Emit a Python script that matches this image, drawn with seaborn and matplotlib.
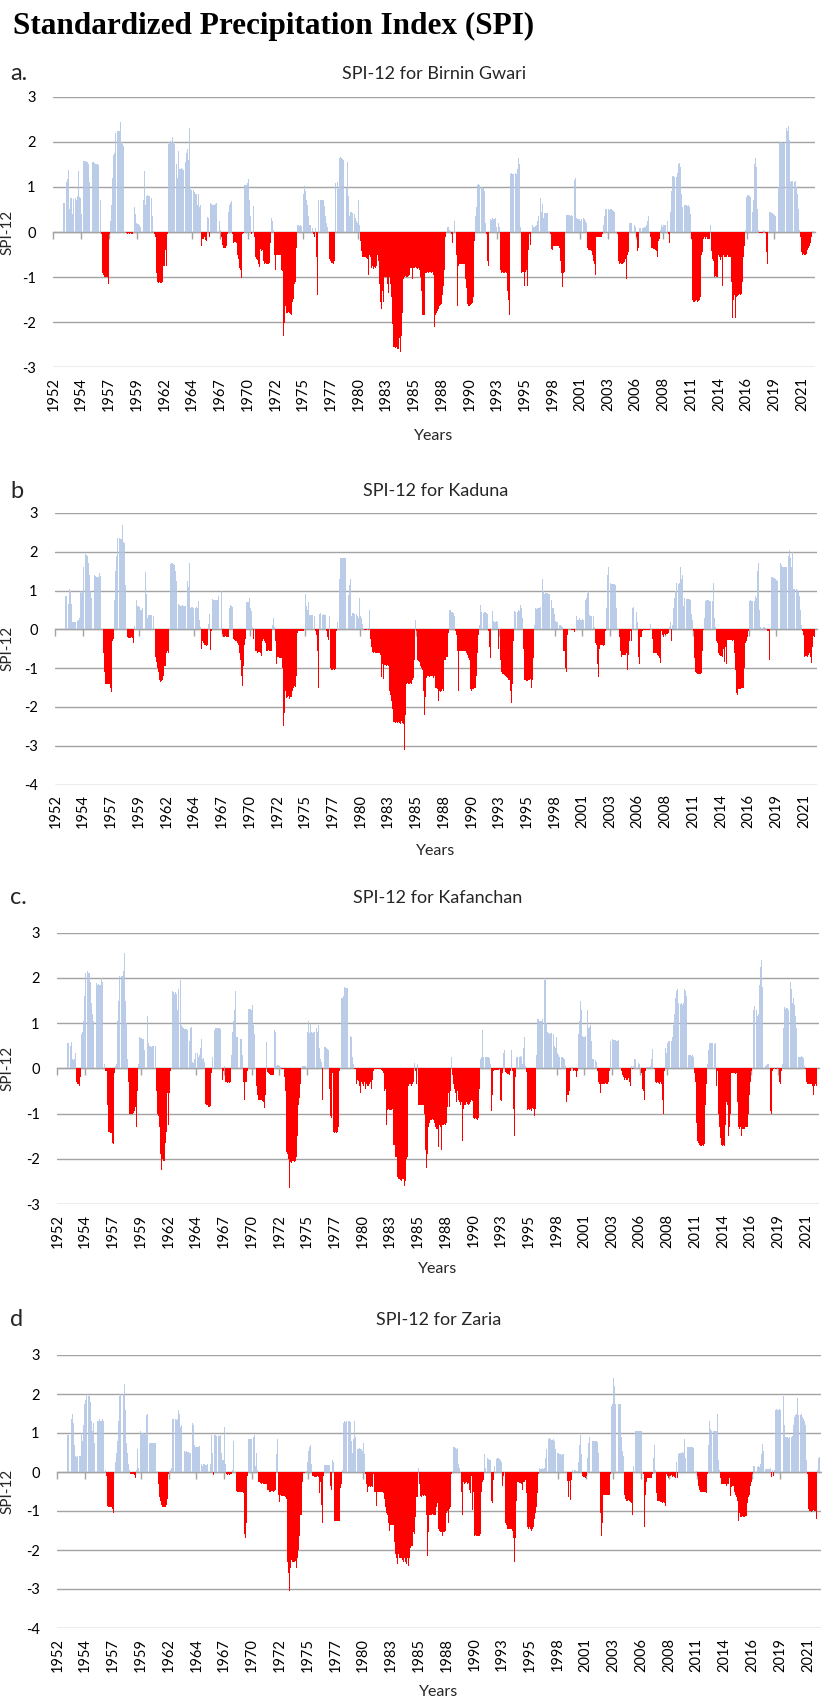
import numpy as np
import pandas as pd
import matplotlib
matplotlib.use("Agg")
import matplotlib.pyplot as plt
import seaborn as sns

nan = float("nan")

# ---------------- data (monthly SPI-12, Jan 1952 ... Dec 2022) ----------------
tick_labels = ["1952", "1954", "1957", "1959", "1962", "1964", "1967", "1970",
               "1972", "1975", "1977", "1980", "1983", "1985", "1988", "1990",
               "1993", "1995", "1998", "2001", "2003", "2006", "2008", "2011",
               "2014", "2016", "2019", "2021"]
label_every = 31  # categories (months) between labels

spi_birnin_gwari = [
    nan, nan, nan, nan, nan, nan, nan, nan, nan, nan, nan, 0.64,
    0.65, 0.66, 0.42, 1.1, 1.17, 1.37, 0.5, 0.75, 0.75, 0.4, 0.74, 0.75,
    0.75, 0.76, 0.72, 0.8, 1.35, 0.78, 0.75, 0.4, 1.62, 1.6, 1.58, 1.58,
    1.58, 1.56, 1.55, 1.5, 1.1, 1.05, 0.5, 1.0, 1.55, 1.56, 1.52, 1.5,
    1.5, 1.5, 1.48, 1.45, 0.72, 0.7, -0.05, -0.9, -0.95, -1.0, -1.0, -1.0,
    -1.0, -1.03, -1.15, -0.05, 0.25, 0.6, 1.2, 1.7, 1.75, 2.2, 2.25, 2.25,
    2.25, 2.25, 2.25, 2.45, 2.0, 1.95, 1.9, 0.72, 0.7, 0.05, -0.03, -0.05,
    -0.03, -0.04, -0.02, -0.05, -0.04, -0.28, 0.02, 0.55, 0.4, 0.2, 0.18, 0.17,
    0.15, 0.12, 0.08, 0.4, 0.25, 0.7, 1.35, 0.6, 0.8, 0.82, 0.8, 0.8,
    0.8, 0.78, 0.75, 0.35, 0.02, -0.05, -0.1, -0.9, -1.1, -1.12, -1.12, -1.1,
    -1.12, -1.12, -1.1, -0.75, -0.75, -0.4, -0.75, -0.9, -0.05, 1.95, 2.0, 2.02,
    2.0, 2.1, 2.0, 1.95, 1.9, 1.85, 1.5, 1.2, 1.8, 1.4, 1.4, 1.42,
    1.4, 1.38, 1.2, 1.0, 1.55, 1.75, 1.85, 1.6, 2.3, 0.95, 0.93, 0.9,
    0.9, 0.93, 0.88, 0.85, 0.85, 0.6, 0.85, 0.55, 0.6, -0.05, -0.3, -0.15,
    -0.15, -0.12, -0.18, -0.2, 0.33, 0.3, -0.1, -0.38, 0.65, 0.62, 0.6, 0.6,
    0.6, 0.62, 0.65, 0.6, 0.3, 0.7, 0.25, 0.05, -0.1, -0.28, -0.35, -0.35,
    -0.35, -0.3, -0.3, -0.05, 0.45, 0.6, 0.65, 0.68, -0.05, -0.25, -0.22, -0.22,
    -0.22, -0.25, -0.5, -0.6, -0.8, -0.85, -1.02, -0.05, -0.02, 1.0, 1.05, 1.05,
    1.05, 1.08, 1.17, 0.7, 0.35, -0.05, 0.25, 0.2, 0.58, -0.1, -0.55, -0.6,
    -0.62, -0.7, -0.78, -0.45, -0.38, -0.42, -0.4, -0.65, -0.7, -0.68, -0.7, -0.7,
    -0.7, -0.7, -0.68, -0.25, 0.32, 0.25, 0.05, -0.5, -0.85, -0.5, -0.5, -0.52,
    -0.52, -0.52, -0.52, -0.85, -0.87, -2.3, -2.02, -1.65, -1.55, -1.8, -1.8, -1.78,
    -1.8, -1.82, -1.85, -1.55, -1.48, -1.45, -1.15, -1.1, -0.35, 0.15, 0.15, 0.14,
    0.15, 0.14, 0.15, 0.7, 0.85, 1.02, 0.9, 0.72, 0.6, 0.35, 0.15, 0.15,
    0.15, 0.12, 0.08, -0.05, -0.1, 0.08, -0.55, -1.4, 0.7, 0.72, 0.73, 0.72,
    0.72, 0.72, 0.72, 0.58, 0.35, 0.2, 0.12, 0.75, 1.35, -0.6, -0.65, -0.68,
    -0.68, -0.7, -0.65, 1.08, 1.1, 1.25, 1.1, 0.95, 1.65, 1.67, 1.65, 1.62,
    1.6, 1.55, 0.85, 0.65, 0.98, 1.55, 0.8, 0.35, 0.45, 0.45, 0.42, 0.3,
    0.45, 0.4, 0.3, 0.25, 0.2, 0.72, 0.15, -0.2, -0.42, -0.45, -0.55, -0.55,
    -0.55, -0.55, -0.58, -0.6, -0.95, -0.5, -0.55, -0.7, -0.8, -0.75, -0.82, -0.78,
    -0.8, -0.75, -0.5, -0.65, -0.8, -1.15, -1.55, -1.7, -1.3, -1.55, -1.0, -1.0,
    -1.0, -1.0, -1.15, -1.35, -1.0, -1.15, -1.45, -2.05, -2.55, -2.55, -2.57, -2.55,
    -2.55, -2.6, -2.6, -2.35, -2.65, -2.3, -1.8, -1.05, -1.0, -1.0, -0.98, -1.0,
    -1.0, -0.98, -0.95, -0.8, -0.8, -1.05, 0.15, -0.8, -0.8, -0.78, -0.8, -0.82,
    -0.8, -0.85, -1.0, -1.05, -1.3, -1.85, -1.85, -1.85, -0.9, -0.9, -0.88, -0.9,
    -0.88, -0.9, -0.88, -0.9, -0.88, -0.95, -2.1, -1.85, -1.8, -1.75, -1.7, -1.7,
    -1.65, -1.62, -1.6, -1.4, -1.2, -0.85, -0.1, 0.55, 0.1, 0.12, 0.1, 0.05,
    0.03, -0.05, -0.25, 0.0, 0.25, 0.3, 0.32, -0.5, -1.65, -0.75, -0.72, -0.72,
    -0.72, -0.72, -0.7, -0.7, -0.72, -1.05, -1.25, -1.6, -1.65, -1.65, -1.62, -1.6,
    -1.6, -1.58, -1.45, -0.2, 0.35, 0.55, 1.05, 1.07, 1.05, 1.05, 1.0, 1.0,
    1.0, 0.98, 0.9, 0.2, -0.05, -0.65, -0.75, 0.72, 0.3, 0.28, 0.27, 0.3,
    0.28, 0.28, 0.3, 0.1, 0.5, 0.55, 0.2, 0.1, -0.85, -0.9, -0.88, -0.9,
    -0.9, -0.88, -0.9, -0.9, -1.3, -1.5, -1.85, 1.28, 1.3, 1.28, 1.28, 1.3,
    1.3, 1.3, 1.28, 1.4, 1.65, 1.5, 0.1, -0.9, -0.88, -0.85, -0.88, -1.2,
    -0.88, -0.85, -1.2, -0.4, -0.05, -0.28, -0.1, 0.05, 0.15, 0.12, 0.1, 0.13,
    0.15, 0.25, 0.35, 0.4, 0.55, 0.75, 0.45, 0.62, 0.3, 0.42, 0.42, 0.42,
    0.42, 0.42, 0.45, 0.02, -0.05, -0.38, -0.4, -0.3, -0.32, -0.3, -0.32, -0.28,
    -0.3, -0.32, -0.35, -0.65, -0.9, -1.22, -0.9, -0.88, 0.4, 0.4, 0.38, 0.38,
    0.38, 0.38, 0.35, 0.37, 0.35, 0.15, 1.05, 1.15, 1.2, 0.3, 0.28, 0.28,
    0.28, 0.25, 0.28, 0.3, 0.72, 0.3, 0.28, 0.25, 0.2, -0.35, -0.4, -0.4,
    -0.4, -0.38, -0.42, -0.5, -0.65, -0.72, -0.95, -0.12, -0.12, -0.1, -0.12, -0.1,
    -0.1, -0.12, -0.05, 0.15, 0.35, 0.5, 0.52, 1.1, 0.5, 0.5, 0.48, 0.5,
    0.5, 0.48, 0.47, 0.45, 0.4, 0.2, 0.18, -0.05, -0.65, -0.7, -0.68, -0.7,
    -0.7, -0.68, -0.66, -0.65, -0.6, -1.05, -0.5, -0.45, 0.2, 0.2, 0.2, 0.18,
    0.18, 0.17, 0.15, 0.1, -0.1, -0.42, -0.35, 0.08, 0.08, 0.08, 0.07, 0.08,
    0.08, 0.1, 0.12, 0.15, 0.25, 0.35, 0.4, 0.42, -0.1, -0.35, -0.35, -0.38,
    -0.38, -0.4, -0.42, -0.55, 0.05, -0.2, -0.15, 0.05, 0.15, 0.12, 0.15, 0.15,
    0.15, 0.15, 0.12, 0.25, -0.05, -0.25, 0.45, 0.9, 1.25, 1.25, 1.23, 1.25,
    1.25, 1.22, 1.3, 1.5, 1.52, 1.45, 0.85, 0.55, 0.6, 0.6, 0.6, 0.6,
    0.6, 0.58, 0.6, 0.55, 0.4, -0.15, -0.85, -1.5, -1.55, -1.55, -1.52, -1.5,
    -1.55, -1.52, -1.5, -1.45, -1.2, -0.5, -0.45, -0.15, -0.12, -0.15, -0.12, -0.15,
    -0.15, -0.12, -0.15, 0.15, -0.42, -0.6, -0.65, -1.0, -0.98, -1.0, -1.0, -0.6,
    -0.5, -0.55, -0.62, -0.55, -1.2, -0.5, -0.55, -0.55, -0.58, -0.55, -0.5, -0.55,
    -0.55, -0.55, -1.1, -1.9, -1.5, -1.4, -1.55, -1.9, -1.45, -1.42, -1.4, -1.38,
    -1.4, -1.38, -1.1, -0.95, -0.55, -0.3, 0.05, 0.78, 0.82, 0.82, 0.8, 0.78,
    0.78, 0.55, 0.45, 0.7, 1.5, 1.65, 1.45, 0.5, 0.05, -0.02, -0.02, -0.02,
    -0.02, -0.02, 0.05, 0.03, -0.02, -0.45, -0.7, -0.75, 0.1, 0.45, 0.45, 0.42,
    0.42, 0.4, 0.38, 0.35, 0.1, 0.45, 0.7, 1.0, 1.98, 2.0, 2.0, 1.98,
    1.98, 2.0, 2.0, 2.0, 2.3, 2.25, 2.35, 2.05, 1.1, 1.12, 1.12, 1.1,
    1.1, 1.1, 1.12, 1.0, 0.85, 0.5, 0.05, -0.1, -0.45, -0.5, -0.5, -0.48,
    -0.5, -0.5, -0.48, -0.4, -0.35, -0.3, -0.25, -0.2, -0.12, 0.03, nan, nan,
]

spi_kaduna = [
    nan, nan, nan, nan, nan, nan, nan, nan, nan, nan, nan, 0.85,
    0.85, 0.87, 0.85, 0.65, 1.05, 1.0, 0.65, 0.2, 0.2, 0.18, 0.2, 0.2,
    0.2, 0.22, 0.25, 0.28, 1.0, 0.95, 1.0, 1.6, 1.75, 1.97, 1.95, 1.93,
    1.9, 1.7, 1.4, 1.0, 0.8, 1.2, 1.25, 1.3, 1.4, 1.38, 1.35, 1.35,
    1.35, 1.45, 1.38, 0.82, 0.5, 0.0, -0.6, -1.1, -1.4, -1.4, -1.4, -1.4,
    -1.4, -1.42, -1.5, -1.62, -0.3, -0.25, 0.75, 1.5, 1.9, 2.35, 2.35, 2.33,
    2.35, 2.33, 2.32, 2.7, 2.25, 2.22, 1.15, 1.15, 0.6, -0.2, -0.22, -0.22,
    -0.22, -0.2, -0.22, -0.35, 0.08, -0.35, 0.05, 0.75, 0.6, 0.6, 0.58, 0.5,
    0.5, 0.55, 0.52, 0.9, 1.15, 1.48, 0.9, 0.3, 0.38, 0.38, 0.37, 0.38,
    0.38, 0.37, 0.35, 0.0, -0.7, -0.85, -1.0, -1.1, -1.3, -1.35, -1.35, -1.33,
    -1.3, -1.2, -0.95, -0.95, -0.6, -0.55, -0.62, -0.05, 0.6, 1.68, 1.7, 1.7,
    1.68, 1.65, 1.5, 1.25, 1.3, 1.05, 0.65, 0.62, 0.6, 0.6, 0.62, 0.6,
    0.6, 0.6, 0.5, 1.1, 1.25, 1.1, 1.7, 0.55, 0.58, 0.57, 0.55, 0.57,
    0.57, 0.55, 0.57, 0.55, 0.72, 0.25, 0.05, -0.5, -0.3, -0.32, -0.35, -0.4,
    -0.4, -0.42, -0.4, 0.15, 0.4, -0.52, -0.05, 0.05, 0.78, 0.75, 0.75, 0.76,
    0.76, 0.75, 0.85, 0.4, 0.35, 0.15, 0.98, -0.12, -0.2, -0.2, -0.18, -0.2,
    -0.2, -0.2, -0.2, 0.55, 0.62, 0.6, 0.58, -0.25, -0.28, -0.3, -0.3, -0.35,
    -0.35, -0.4, -0.62, -0.8, -1.2, -1.45, -0.95, -0.4, -0.25, 0.68, 0.7, 0.7,
    0.7, 0.8, 0.55, 0.48, 0.05, -0.25, -0.05, 0.5, -0.55, -0.55, -0.6, -0.58,
    -0.58, -0.6, -0.68, -0.55, -0.3, -0.25, -0.3, -0.35, -0.55, -0.55, -0.52, -0.55,
    -0.55, -0.52, -0.55, 0.1, 0.3, 0.05, -0.3, -0.9, -0.72, -0.72, -0.72, -0.75,
    -0.75, -0.75, -1.0, -2.5, -2.15, -1.6, -1.78, -1.75, -1.75, -1.72, -1.8, -1.75,
    -1.75, -1.6, -1.5, -1.45, -1.48, -1.0, -1.2, -0.1, -0.05, -0.03, -0.05, -0.04,
    -0.04, -0.03, 0.45, 0.88, 0.9, 0.6, 0.5, 0.7, 0.38, 0.38, 0.37, 0.38,
    0.38, 0.38, 0.35, -0.05, -0.15, -0.55, -1.5, 0.4, 0.42, 0.4, 0.38, 0.38,
    0.4, 0.38, 0.38, -0.05, -0.2, -0.28, 0.35, 0.75, -1.0, -1.05, -1.05, -1.03,
    -1.05, -1.03, -0.05, 0.2, 1.0, 1.45, 1.3, 1.85, 1.85, 1.83, 1.85, 1.83,
    1.83, 1.82, 1.1, 0.9, 0.88, 1.15, 1.3, 0.35, 0.42, 0.42, 0.4, 0.35,
    0.42, 0.4, 0.35, 0.3, 0.8, 0.35, 0.3, 0.15, 0.05, -0.12, -0.02, -0.02,
    -0.02, 0.02, -0.02, 0.5, -0.25, -0.45, -0.58, -0.6, -0.6, -0.58, -0.6, -0.6,
    -0.6, -0.6, -0.62, -0.65, -0.9, -1.22, -0.9, -1.28, -0.92, -0.93, -0.95, -0.92,
    -0.95, -1.3, -1.6, -1.7, -1.85, -2.05, -2.4, -2.4, -2.42, -2.4, -2.42, -2.4,
    -2.4, -2.42, -2.45, -2.35, -2.42, -2.45, -3.1, -2.2, -1.4, -1.4, -1.38, -1.4,
    -1.4, -1.38, -1.4, -1.3, -1.25, -0.8, 0.1, 0.25, -0.05, -0.8, -0.82, -0.85,
    -0.95, -1.0, -1.05, -1.1, -1.6, -2.2, -1.75, -1.25, -1.2, -1.2, -1.22, -1.2,
    -1.2, -1.22, -1.2, -1.25, -1.2, -1.5, -1.5, -1.55, -1.85, -1.6, -1.6, -1.62,
    -1.6, -1.55, -1.58, -0.8, -0.8, -0.72, -0.7, -0.1, 0.8, 0.5, 0.5, 0.45,
    0.45, 0.42, 0.35, -0.05, -0.15, -0.55, -0.55, -1.6, -0.55, -0.55, -0.56, -0.55,
    -0.55, -0.57, -0.55, -0.55, -0.62, -0.65, -0.75, -0.8, -1.55, -1.58, -1.55, -1.55,
    -1.55, -1.52, -1.5, -1.2, -0.6, -0.15, 0.1, 0.62, 0.45, 0.45, 0.45, 0.43,
    0.45, 0.45, 0.42, 0.4, -0.05, -0.45, -0.75, -0.95, 0.2, 0.48, 0.22, 0.2,
    0.2, 0.22, 0.2, -0.5, 0.1, -0.05, -0.8, -1.1, -1.15, -1.15, -1.18, -1.2,
    -1.22, -1.25, -1.28, -1.3, -1.3, -1.6, -1.9, -1.4, -0.3, 0.48, 0.45, 0.5,
    0.5, 0.45, 0.5, 0.48, 0.62, 0.55, 0.3, -0.5, -1.3, -1.32, -1.3, -1.32,
    -1.32, -1.3, -1.3, -1.28, -1.5, -1.3, -1.28, -0.75, 0.1, 0.55, 0.52, 0.55,
    0.55, 0.55, 0.58, 0.57, 0.9, 1.3, 1.0, 0.92, 0.95, 0.95, 0.95, 0.92,
    0.92, 0.95, 0.9, 0.75, 0.55, 0.55, 0.4, 0.22, 0.2, 0.18, 0.15, 0.12,
    0.12, 0.1, 0.08, 0.05, -0.55, -0.55, -1.0, -1.1, -0.15, -0.15, 0.02, 0.02,
    0.02, -0.02, -0.02, -0.02, -0.08, 0.02, 0.9, 0.35, 0.25, 0.25, 0.28, 0.25,
    0.25, 0.27, 0.25, 0.95, 1.13, 0.75, 0.8, 0.95, 1.0, 0.38, 0.35, 0.35,
    0.35, 0.33, 0.35, 0.05, -0.35, -0.4, -0.9, -1.22, -0.5, -0.4, -0.4, -0.4,
    -0.4, -0.42, -0.4, -0.05, 0.55, 1.4, 1.6, 1.8, 1.2, 1.2, 1.18, 1.18,
    1.18, 1.17, 1.15, 0.55, 0.85, 0.55, 0.25, -0.2, -0.55, -0.7, -0.65, -0.65,
    -0.65, -0.65, -0.62, -0.65, -1.05, -0.65, -0.3, -0.05, -0.3, 0.55, 0.58, 0.55,
    0.55, 0.5, 0.45, 0.2, -0.7, -0.9, -0.2, -0.2, -0.05, -0.02, -0.02, -0.02,
    -0.02, -0.02, -0.02, -0.02, -0.02, 0.15, 0.5, 0.15, -0.25, -0.6, -0.62, -0.6,
    -0.62, -0.65, -0.68, -0.75, -0.8, -0.88, -0.05, -0.15, -0.2, -0.12, -0.15, -0.12,
    -0.12, -0.1, -0.05, 0.05, 0.2, -0.3, 0.1, 0.55, 0.8, 1.0, 1.2, 1.2,
    1.2, 1.18, 1.2, 1.6, 1.3, 1.4, 0.6, 0.8, 0.78, 0.78, 0.78, 0.77,
    0.77, 0.78, 0.75, 0.4, 0.25, -0.05, -0.6, -0.75, -1.1, -1.13, -1.15, -1.15,
    -1.15, -1.15, -1.12, -0.55, -0.05, -0.02, 0.3, 0.72, 0.75, 0.75, 0.75, 0.72,
    0.72, 0.75, 0.75, 0.72, 1.2, 0.3, 0.05, -0.3, -0.35, -0.6, -0.65, -0.68,
    -0.68, -0.68, -0.7, -0.5, -0.85, -0.45, -0.9, -0.28, -0.28, -0.27, -0.28, -0.28,
    -0.28, -0.3, -0.28, -0.6, -1.05, -1.65, -1.4, -1.7, -1.55, -1.55, -1.55, -1.52,
    -1.52, -1.5, -1.0, -0.7, -0.35, -0.3, -0.2, -0.05, 0.72, 0.75, 0.74, 0.72,
    0.72, 0.7, 0.72, 0.85, 0.8, 1.5, 1.7, 0.5, 0.07, 0.05, 0.05, 0.05,
    0.05, 0.05, 0.03, 0.02, -0.05, -0.05, -0.8, -0.25, 0.05, 1.35, 1.35, 1.32,
    1.32, 1.3, 1.28, 1.25, 1.2, 1.3, 1.4, 1.7, 1.65, 1.6, 1.62, 1.6,
    1.6, 1.62, 1.65, 1.7, 1.9, 2.05, 1.85, 1.6, 2.0, 1.05, 1.05, 1.05,
    1.05, 1.05, 1.02, 1.0, 0.85, 0.5, 0.1, -0.05, -0.15, -0.6, -0.7, -0.68,
    -0.68, -0.7, -0.65, -0.62, -0.7, -0.88, -0.45, -0.2, -0.18, -0.2, nan, nan,
]

spi_kafanchan = [
    nan, nan, nan, nan, nan, nan, nan, nan, nan, nan, nan, 0.55,
    0.55, 0.6, 0.58, 0.5, 0.58, 0.2, 0.18, 0.2, 0.35, -0.3, -0.35, -0.38,
    -0.35, -0.38, -0.2, 0.75, 0.8, 1.05, 1.6, 2.1, 2.15, 2.15, 2.15, 2.1,
    2.1, 1.9, 1.45, 1.2, 1.05, 1.25, 1.9, 1.9, 1.88, 1.85, 1.87, 1.85,
    1.85, 2.0, 1.9, 1.1, 0.72, 0.1, -0.05, -0.05, -0.8, -1.4, -1.4, -1.42,
    -1.42, -1.42, -1.65, -1.68, -0.1, 0.05, 0.1, 1.05, 1.5, 2.05, 2.05, 2.05,
    2.05, 2.05, 2.15, 2.55, 1.5, 1.0, 0.2, -0.3, -0.95, -1.0, -1.0, -1.0,
    -1.0, -0.98, -0.95, -0.85, -1.3, -0.8, -0.5, 0.1, 0.7, 0.68, 0.67, 0.65,
    0.65, 0.4, 1.3, 0.55, 0.8, 1.15, 0.55, 0.5, 0.5, 0.48, 0.5, 0.5,
    0.5, 0.48, 0.5, -0.5, -1.0, -1.05, -1.3, -1.9, -2.25, -2.0, -2.05, -2.05,
    -2.05, -1.65, -1.4, -0.55, -1.25, -0.55, -0.05, 0.85, 1.65, 1.7, 1.68, 1.65,
    1.68, 1.65, 1.3, 1.75, 1.45, 1.85, 1.95, 0.95, 0.92, 0.9, 0.88, 0.88,
    0.88, 0.85, 0.85, 0.82, 0.6, 0.9, 0.92, 0.15, 0.12, 0.2, 0.35, 0.25,
    0.15, 0.35, 0.25, 0.3, 0.45, 0.65, 0.2, 0.22, 0.15, -0.75, -0.78, -0.8,
    -0.8, -0.85, -0.85, -0.83, -0.1, 0.25, 0.05, -0.62, 0.85, 0.9, 0.9, 0.9,
    0.9, 0.9, 0.88, 0.6, 0.1, -0.25, -0.05, 0.05, -0.3, -0.3, -0.32, -0.3,
    -0.32, -0.3, -0.05, 0.3, 0.8, 1.05, 1.3, 1.7, 0.7, 0.7, 0.68, 0.67,
    0.67, 0.65, 0.65, 0.3, -0.3, -0.7, -0.3, -0.3, -0.05, 1.3, 1.32, 1.32,
    1.32, 1.3, 1.4, 0.95, 0.75, 0.4, 0.05, -0.4, -0.6, -0.7, -0.7, -0.7,
    -0.7, -0.72, -0.75, -0.72, -0.88, -0.6, 0.58, -0.08, -0.1, -0.12, -0.15, -0.15,
    -0.15, -0.15, -0.14, 0.85, 0.8, 0.05, 0.07, 0.07, 0.06, 0.03, -0.02, -0.02,
    -0.02, -0.02, -0.2, -0.5, -1.85, -1.9, -2.0, -2.65, -2.05, -2.08, -2.1, -2.05,
    -2.05, -2.07, -2.05, -1.95, -1.5, -1.4, -0.8, -0.65, -0.35, 0.0, 0.05, 0.05,
    0.05, 0.05, 0.05, 0.5, 0.8, 1.05, 0.78, 0.98, 0.8, 0.78, 0.8, 0.8,
    0.8, 0.78, 0.9, 0.8, 0.95, 0.45, 0.2, 0.15, -0.7, 0.48, 0.48, 0.47,
    0.47, 0.45, 0.42, 0.4, -0.45, -1.05, -1.1, -0.5, -0.1, -1.4, -1.42, -1.4,
    -1.42, -1.4, -1.3, -0.05, 0.85, 1.5, 1.55, 1.55, 1.6, 1.8, 1.78, 1.78,
    1.78, 1.78, 1.75, 0.7, 0.72, 0.7, 0.25, 0.1, -0.02, -0.02, -0.35, -0.25,
    -0.3, -0.28, -0.38, -0.55, -0.3, -0.35, -0.38, -0.3, -0.45, -0.28, -0.35, -0.4,
    -0.4, -0.35, -0.3, -0.45, -0.25, -0.05, -0.02, -0.03, -0.02, -0.02, -0.02, -0.02,
    -0.02, -0.02, -0.03, -0.05, -0.1, -0.1, -0.5, -0.45, -1.25, -0.92, -0.9, -0.92,
    -0.92, -0.9, -0.92, -0.9, -1.7, -1.7, -1.95, -1.95, -2.4, -2.45, -2.45, -2.48,
    -2.48, -2.5, -2.45, -2.45, -2.6, -2.5, -2.0, -1.95, -1.3, -0.38, -0.35, -0.35,
    -0.38, -0.35, -0.3, 0.12, -0.05, -0.35, -0.02, 0.1, -0.8, -0.8, -0.8, -0.8,
    -0.8, -0.82, -1.0, -1.2, -1.8, -2.2, -1.9, -1.3, -1.2, -1.15, -1.15, -1.12,
    -1.15, -1.15, -1.2, -1.3, -1.35, -1.35, -1.75, -1.25, -1.3, -1.8, -1.3, -1.25,
    -1.25, -1.22, -1.25, -1.2, -0.85, -0.55, -0.85, -0.5, -0.05, 0.25, -0.15, -0.35,
    -0.45, -0.55, -0.75, -0.5, -0.7, -0.8, -0.75, -0.8, -0.75, -1.6, -0.9, -0.8,
    -0.8, -0.75, -0.78, -0.85, -0.8, -0.78, -0.75, -0.7, -0.72, -1.1, -1.12, -1.1,
    -1.1, -1.12, -1.15, -1.1, -0.45, 0.2, 0.25, 0.85, 0.25, 0.25, 0.22, 0.25,
    0.25, 0.24, 0.25, 0.22, 0.1, -0.95, -0.6, -1.3, -0.05, -0.03, -0.03, -0.03,
    -0.03, -0.03, -0.02, -0.7, -0.72, -0.75, -0.1, 0.35, 0.4, -0.08, -0.1, -0.12,
    -0.12, -0.15, -0.1, -0.05, 0.4, -0.05, -0.9, -1.5, -0.2, 0.25, 0.25, 0.28,
    0.25, 0.25, 0.28, 0.25, 0.1, 0.45, 0.7, 0.05, -0.08, -0.9, -0.92, -0.9,
    -0.92, -0.9, -0.95, -0.88, -0.9, -1.05, -0.88, -0.9, 0.3, 1.1, 1.1, 1.05,
    1.05, 1.05, 1.1, 1.1, 1.65, 1.95, 2.0, 1.0, 0.8, 0.78, 0.75, 0.78,
    0.78, 0.8, 0.82, 0.75, 0.5, 0.45, 0.7, 0.35, 0.3, 0.25, 0.25, 0.25,
    0.25, 0.25, 0.22, 0.2, 0.05, -0.75, -0.6, -0.6, -1.15, -0.5, -0.05, 0.02,
    0.02, -0.05, -0.03, -0.05, -0.2, -0.05, 0.0, 0.75, 1.05, 1.5, 1.3, 0.72,
    0.7, 0.7, 0.72, 0.75, 1.35, 1.3, 0.9, 0.92, 0.95, 0.6, 0.2, 0.2,
    0.2, 0.2, 0.18, 0.15, -0.05, -0.3, -0.35, -0.55, -0.35, -0.35, -0.33, -0.35,
    -0.35, -0.33, -0.35, -0.35, -0.3, -0.05, 0.6, 0.8, 0.7, 0.65, 0.63, 0.62,
    0.62, 0.6, 0.6, 0.62, 0.55, 0.55, 0.15, -0.05, -0.15, -0.2, -0.25, -0.22,
    -0.25, -0.25, -0.22, -0.25, -0.3, -0.38, 0.05, -0.02, 0.05, 0.2, 0.2, 0.18,
    0.18, 0.15, 0.12, 0.1, 0.0, -0.1, -0.45, -0.5, -0.7, -0.55, -0.05, 0.02,
    0.02, 0.03, 0.03, 0.05, 0.2, 0.42, 0.3, 0.05, -0.02, -0.3, -0.32, -0.3,
    -0.32, -0.35, -0.3, -0.35, -0.4, -0.7, -1.0, -0.05, 0.45, 0.35, 0.55, 0.6,
    0.6, 0.58, 0.58, 0.6, 0.7, 0.95, 1.2, 1.55, 1.7, 1.75, 1.45, 1.42,
    1.42, 1.42, 1.45, 1.4, 1.45, 1.75, 1.7, 1.6, 0.8, -0.15, 0.3, 0.3,
    0.3, 0.28, 0.3, 0.25, -0.1, -0.3, -0.7, -1.2, -1.6, -1.65, -1.7, -1.72,
    -1.72, -1.7, -1.72, -1.68, -1.5, -0.8, -0.35, 0.1, 0.4, 0.55, 0.55, 0.55,
    0.55, 0.55, 0.55, 0.53, 0.55, -0.4, -0.05, -1.0, -1.3, -1.55, -1.7, -1.72,
    -1.72, -1.7, -1.72, -1.25, -0.75, -0.8, -1.5, -1.3, -1.2, -1.0, -0.1, -0.1,
    -0.1, -0.1, -0.12, -0.1, -0.75, -1.3, -0.8, -1.35, -1.3, -1.5, -1.35, -1.35,
    -1.35, -1.3, -1.3, -1.32, -1.3, -1.0, -0.6, -0.3, -0.05, 0.0, 1.3, 1.38,
    1.35, 1.35, 1.3, 1.15, 1.2, 1.85, 2.25, 2.4, 1.8, 0.1, 0.05, 0.05,
    0.05, 0.08, 0.1, 0.1, 0.0, -0.95, -1.0, -1.1, -0.05, -0.02, 0.02, -0.02,
    -0.02, 0.02, -0.02, -0.3, -0.35, -0.65, -0.05, 0.1, 0.9, 1.35, 1.32, 1.33,
    1.33, 1.3, 1.32, 1.3, 1.9, 1.75, 1.45, 1.55, 1.4, 1.15, 0.9, 0.25,
    0.25, 0.25, 0.25, 0.25, 0.28, 0.25, 0.22, 0.05, -0.02, -0.2, -0.3, -0.35,
    -0.35, -0.35, -0.35, -0.35, -0.38, -0.6, -0.38, -0.38, -0.35, -0.38, nan, nan,
]

spi_zaria = [
    nan, nan, nan, nan, nan, nan, nan, nan, nan, nan, nan, 0.95,
    0.95, 0.97, 0.95, 0.9, 1.35, 1.48, 1.25, 0.7, 0.4, 0.38, 0.4, 0.4,
    0.4, 0.42, 0.42, 1.0, 0.8, 1.2, 1.75, 1.85, 2.0, 1.98, 1.95, 1.95,
    1.95, 1.8, 1.3, 1.05, 1.25, 0.75, 1.05, 1.3, 1.32, 1.3, 1.3, 1.35,
    1.3, 1.32, 1.35, 1.3, 0.8, 0.2, 0.05, -0.1, -0.88, -0.9, -0.9, -0.9,
    -0.9, -0.95, -0.98, -1.05, 0.0, 0.25, 0.5, 0.8, 1.3, 1.95, 2.0, 2.0,
    2.0, 1.98, 2.0, 2.25, 1.6, 0.75, 0.5, 0.2, 0.05, -0.05, -0.05, -0.05,
    -0.05, -0.05, -0.08, -0.15, 0.05, 0.6, 0.1, 0.2, 0.3, 1.05, 1.0, 1.0,
    1.0, 0.98, 0.95, 1.45, 1.5, 1.8, 1.1, 0.75, 0.75, 0.75, 0.74, 0.75,
    0.75, 0.75, 0.74, 0.75, 0.02, -0.3, -0.65, -0.75, -0.85, -0.9, -0.9, -0.9,
    -0.9, -0.88, -0.85, -0.7, -0.05, 0.02, 0.05, 0.1, 1.35, 1.35, 1.33, 1.35,
    1.35, 1.33, 1.35, 1.6, 1.5, 1.15, 1.2, 0.55, 0.35, 0.55, 0.55, 0.52,
    0.55, 0.52, 0.52, 0.5, 0.5, 0.9, 1.4, 1.25, 1.2, 0.7, 0.65, 0.65,
    0.65, 0.65, 0.67, 0.68, 0.7, 0.2, 0.15, 0.2, 0.2, 0.18, 0.18, 0.2,
    0.2, 0.18, 0.18, 0.2, 0.95, 0.5, -0.08, 0.95, 0.95, 0.93, 0.92, 0.93,
    0.93, 0.92, 0.95, 0.5, 0.3, 0.3, 1.15, 0.2, 0.05, -0.05, -0.08, -0.05,
    -0.08, -0.05, -0.05, 0.05, 0.8, 0.85, 0.15, 0.05, -0.48, -0.5, -0.5, -0.52,
    -0.5, -0.52, -0.5, -0.55, -1.05, -1.6, -1.68, -1.3, -0.1, 0.85, 0.85, 0.85,
    0.85, 0.82, 0.85, 0.9, 0.95, 0.15, 0.5, 0.05, -0.25, -0.25, -0.28, -0.3,
    -0.3, -0.28, -0.3, -0.3, -0.32, -0.3, -0.45, -0.45, -0.5, -0.48, -0.5, -0.48,
    -0.48, -0.5, -0.48, -0.45, 0.45, 0.85, 0.05, -0.6, -0.78, -0.6, -0.62, -0.62,
    -0.62, -0.62, -0.65, -0.7, -1.1, -2.3, -2.6, -3.05, -2.45, -2.25, -2.3, -2.3,
    -2.3, -2.28, -2.3, -2.45, -2.2, -2.0, -1.65, -1.1, -1.1, -0.25, -0.03, -0.02,
    -0.02, -0.01, 0.02, 0.25, 0.55, 0.65, 0.7, 0.2, -0.1, -0.12, -0.1, -0.12,
    -0.12, -0.12, -0.1, -0.12, -0.55, -0.25, -0.85, -0.8, -1.3, -0.1, 0.18, 0.18,
    0.18, 0.17, 0.18, 0.17, 0.05, -0.35, -0.45, 0.3, 0.25, -1.25, -1.25, -1.25,
    -1.25, -1.25, -1.22, -1.25, -0.4, -0.3, 0.05, 1.25, 1.3, 1.28, 1.3, 1.28,
    1.28, 1.3, 1.3, 1.28, 0.8, 0.5, 0.85, 1.3, 0.9, 0.62, 0.62, 0.6,
    0.6, 0.62, 0.6, 0.6, 0.55, 0.75, 0.45, 0.05, -0.05, -0.3, -0.5, -0.38,
    -0.35, -0.38, -0.35, -0.38, -0.05, -0.2, -0.5, -0.5, -0.88, -0.5, -0.5, -0.52,
    -0.52, -0.5, -0.52, -0.55, -0.55, -0.7, -0.9, -1.05, -1.1, -1.3, -1.5, -1.35,
    -1.35, -1.35, -1.35, -1.35, -1.8, -2.1, -2.2, -2.35, -2.1, -2.2, -2.25, -2.2,
    -2.2, -2.25, -2.3, -2.2, -2.3, -2.35, -2.2, -2.4, -3.05, -2.2, -1.95, -1.9,
    -1.9, -1.55, -1.6, -1.15, -0.65, -0.62, -0.65, 0.1, -0.3, -0.62, -0.65, -0.6,
    -0.62, -0.6, -0.62, -1.05, -1.1, -2.15, -1.55, -1.1, -1.1, -1.1, -1.08, -1.1,
    -1.1, -1.08, -1.1, -0.9, -0.8, -1.45, -1.5, -1.55, -1.55, -1.65, -1.5, -1.55,
    -1.55, -1.5, -1.05, -1.0, -1.3, -0.95, -0.9, -0.05, 0.05, 0.8, 0.65, 0.63,
    0.62, 0.6, 0.62, 0.2, 0.1, 0.42, 0.1, -0.5, -1.1, -0.25, -0.3, -0.28,
    -0.25, -0.3, -0.28, -0.52, -0.45, -0.55, -0.1, -0.98, -0.5, -1.65, -1.62, -1.65,
    -1.65, -1.68, -1.65, -1.65, -1.6, -0.5, -0.25, -0.2, 0.45, 0.1, 0.35, 0.35,
    0.35, 0.33, 0.3, 0.3, -0.75, -0.8, -0.2, 0.15, 0.35, 0.35, 0.33, 0.35,
    0.35, 0.33, 0.3, 0.25, -0.35, -0.1, 0.15, 0.1, -1.3, -1.35, -1.45, -1.45,
    -1.45, -1.47, -1.45, -1.5, -1.6, -1.7, -2.3, -1.7, -0.75, -0.25, -0.25, -0.27,
    -0.27, -0.25, -0.3, -0.45, -0.25, -0.25, -0.2, -0.55, -1.4, -1.45, -1.42, -1.45,
    -1.45, -1.5, -1.45, -1.4, -1.2, -1.05, -0.9, -0.55, -0.05, 0.08, 0.1, 0.08,
    0.08, 0.1, 0.08, 0.1, 0.35, 0.6, 0.7, 0.85, 0.85, 0.86, 0.85, 0.82,
    0.82, 0.85, 0.8, 0.6, 0.45, 0.35, 0.5, 0.5, 0.45, 0.45, 0.43, 0.45,
    0.45, 0.43, 0.45, 0.35, 0.0, -0.22, -0.65, -0.22, -0.72, -0.2, 0.05, 0.05,
    0.05, 0.05, 0.05, 0.03, 0.02, 0.25, 0.7, 0.95, 0.45, 0.05, -0.1, -0.12,
    -0.12, -0.15, -0.1, 0.35, 0.75, 0.9, 0.8, 1.0, 1.2, 0.8, 0.8, 0.8,
    0.8, 0.8, 0.78, 0.5, 0.05, -0.6, -1.05, -1.65, -1.3, -0.6, -0.6, -0.6,
    -0.6, -0.6, -0.6, -0.6, -0.58, -0.05, 1.7, 1.75, 2.4, 2.2, 1.75, 1.75,
    1.75, 1.75, 1.75, 1.75, 1.75, 0.9, 0.55, 0.4, -0.6, -0.7, -0.75, -0.75,
    -0.75, -0.72, -0.75, -0.78, -0.8, -1.1, 0.15, 0.1, 1.05, 1.05, 1.05, 1.05,
    1.05, 1.05, 1.05, 1.05, 0.9, 0.05, -0.05, -1.4, -0.6, -0.25, -0.15, -0.15,
    -0.15, -0.15, -0.15, -0.15, -0.05, 0.35, 0.7, 0.05, -0.55, -0.75, -0.75, -0.75,
    -0.75, -0.77, -0.78, -0.8, -0.78, -0.8, -0.88, -0.05, -0.1, -0.15, -0.05, -0.1,
    -0.1, -0.08, -0.12, -0.1, -0.12, -0.15, 0.25, -0.15, 0.25, 0.45, 0.5, 0.48,
    0.5, 0.52, 0.5, 0.85, 0.35, 0.5, 0.6, 0.65, 0.65, 0.65, 0.65, 0.65,
    0.65, 0.62, 0.65, 0.6, 0.1, 0.02, -0.1, -0.35, -0.45, -0.5, -0.5, -0.52,
    -0.52, -0.5, -0.52, -0.5, -0.55, -0.05, 0.7, 1.3, 1.1, 1.05, 1.05, 1.05,
    1.05, 1.05, 1.05, 1.05, 1.5, 0.3, 0.05, -0.15, -0.25, -0.3, -0.32, -0.32,
    -0.32, -0.32, -0.35, -0.3, -0.32, -0.15, -0.6, -0.62, -0.38, -0.35, -0.35, -0.5,
    -0.6, -0.65, -0.75, -1.25, -0.8, -1.05, -1.15, -1.15, -1.12, -1.15, -1.15, -1.12,
    -1.12, -1.1, -0.8, -0.65, -0.6, -0.35, -0.25, -0.05, 0.15, 0.15, 0.12, 0.1,
    0.12, 0.12, 0.15, 0.12, 0.2, 0.45, 0.72, 0.55, 0.15, 0.08, 0.08, 0.08,
    0.08, 0.08, 0.08, 0.1, -0.12, 0.05, -0.45, -0.1, 0.05, 1.6, 1.62, 1.6,
    1.6, 1.62, 1.6, 1.62, 1.65, 1.62, 1.95, 1.2, 0.9, 0.9, 0.9, 0.88,
    0.9, 0.9, 0.88, 0.9, 0.92, 1.2, 1.4, 1.45, 1.5, 1.9, 1.45, 1.5,
    1.5, 1.45, 1.5, 1.4, 1.35, 1.3, 1.2, 0.3, -0.05, -0.75, -0.95, -1.0,
    -1.0, -1.02, -1.0, -0.98, -1.0, -1.0, -1.2, -0.75, 0.05, 0.35, 0.38, nan,
]

stations = ["Birnin Gwari", "Kaduna", "Kafanchan", "Zaria"]
letters = ["a.", "b", "c.", "d"]
series = [spi_birnin_gwari, spi_kaduna, spi_kafanchan, spi_zaria]
y_bottoms = [-3, -4, -3, -4]

# ---------------- layout (pixels) ----------------
W, H = 822, 1704
boxes = [(53, 815, 96.7, 367.3), (55, 817, 513, 784.5),
         (57, 819, 932.7, 1204), (57, 821, 1355, 1628)]
head_y = [74, 491, 898, 1320]
years_y = [436, 851, 1269, 1692]

BLUE = "#b0c4e6"
RED = "#ff0000"
GRID = "#a3a3a3"

sns.set_theme(style="white")
plt.rcParams["font.family"] = ["Lato", "DejaVu Sans"]
plt.rcParams["axes.unicode_minus"] = False

fig = plt.figure(figsize=(W / 100, H / 100), dpi=100)
fig.text(13 / W, 1 - 34 / H, "Standardized Precipitation Index (SPI)",
         fontsize=22.5, fontweight="bold", family="Liberation Serif",
         ha="left", va="baseline", color="black")

tick_pos = np.arange(len(tick_labels)) * label_every

for vals, name, letter, ymin, (l, r, t, b), hy, yy in zip(
        series, stations, letters, y_bottoms, boxes, head_y, years_y):
    assert len(vals) == 852, (name, len(vals))
    ax = fig.add_axes([l / W, 1 - b / H, (r - l) / W, (b - t) / H])
    df = pd.DataFrame({"month": np.arange(len(vals)), "spi": vals}).dropna()
    pos = df[df["spi"] >= 0]
    neg = df[df["spi"] < 0]
    sns.barplot(data=pos, x="month", y="spi", color=BLUE, native_scale=True,
                width=0.85, saturation=1, linewidth=0, edgecolor="none",
                errorbar=None, alpha=0.85, ax=ax, zorder=2)
    sns.barplot(data=neg, x="month", y="spi", color=RED, native_scale=True,
                width=1.0, saturation=1, linewidth=0, edgecolor="none",
                errorbar=None, ax=ax, zorder=2)
    ax.set_xlim(-0.5, len(vals) - 0.5)
    ax.set_ylim(ymin, 3)
    yt = list(range(ymin, 4))
    ax.set_yticks(yt)
    ax.set_yticklabels([str(v) for v in yt], fontsize=10.5)
    ax.yaxis.grid(True, color=GRID, linewidth=1.0, zorder=0)
    ax.xaxis.grid(False)
    ax.set_axisbelow(True)
    for s in ax.spines.values():
        s.set_visible(False)
    ax.set_xticks(tick_pos)
    ax.set_xticklabels(tick_labels, rotation=90, fontsize=10.5)
    ax.tick_params(axis="x", length=0, pad=7, colors="black")
    ax.tick_params(axis="y", length=0, pad=12.5, colors="black")
    ax.set_xlabel("")
    ax.set_ylabel("")

    # category axis crossing at zero, with its tick marks
    sec = ax.secondary_xaxis((0 - ymin) / (3 - ymin))
    sec.set_alignment("bottom")
    sec.set_xticks(tick_pos)
    sec.tick_params(axis="x", length=5, width=1, color=GRID,
                    labelbottom=False, labeltop=False, direction="out")
    sec.spines["bottom"].set_color(GRID)
    sec.spines["bottom"].set_linewidth(1.0)

    cx = (l + r) / 2 / W
    fig.text(10 / W, 1 - hy / H, letter, fontsize=17, ha="left", va="center")
    fig.text(cx, 1 - hy / H, f"SPI-12 for {name}", fontsize=13,
             ha="center", va="center")
    fig.text(cx, 1 - yy / H, "Years", fontsize=11.5, ha="center", va="center")
    fig.text(7 / W, 1 - (t + b) / 2 / H, "SPI-12", fontsize=11, rotation=90,
             ha="center", va="center")

fig.savefig("out.png", dpi=100)
